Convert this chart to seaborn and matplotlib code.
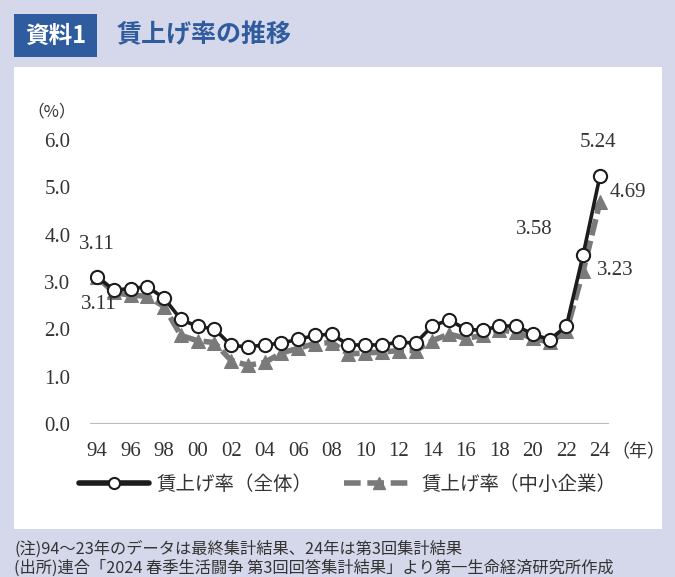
import matplotlib
matplotlib.use("Agg")
import matplotlib.pyplot as plt
from matplotlib.patches import Rectangle
from matplotlib.lines import Line2D
import seaborn as sns
import pandas as pd

# Data (連合 春季生活闘争 賃上げ率, %)
years = list(range(1994, 2025))
rate_all = [3.11, 2.83, 2.86, 2.90, 2.66, 2.21, 2.06, 2.01, 1.66, 1.63,
            1.67, 1.71, 1.79, 1.87, 1.90, 1.67, 1.67, 1.67, 1.73, 1.71,
            2.07, 2.20, 2.00, 1.98, 2.07, 2.07, 1.90, 1.78, 2.07, 3.58, 5.24]
rate_sme = [3.11, 2.78, 2.72, 2.70, 2.48, 1.87, 1.76, 1.72, 1.34, 1.24,
            1.30, 1.50, 1.60, 1.70, 1.72, 1.48, 1.50, 1.52, 1.55, 1.55,
            1.76, 1.90, 1.81, 1.87, 1.99, 1.94, 1.81, 1.73, 1.96, 3.23, 4.69]
xtick_years = list(range(1994, 2025, 2))
xtick_labels = [f"{y % 100:02d}" for y in xtick_years]
ytick_values = [0, 1, 2, 3, 4, 5, 6]
name_all = "賃上げ率（全体）"
name_sme = "賃上げ率（中小企業）"

df = pd.DataFrame({"year": years, "all": rate_all, "sme": rate_sme})

sns.set_style("white")
plt.rcParams['font.family'] = ['Liberation Serif', 'Noto Sans CJK JP', 'DejaVu Sans']
jp = ['Noto Sans CJK JP', 'DejaVu Sans']

bg = "#d5d8ea"
blue = "#2f5b9f"
txt = "#333333"

fig = plt.figure(figsize=(6.75, 5.77), dpi=100)
fig.patch.set_facecolor(bg)

# white panel + title box
fig.patches.append(Rectangle((14 / 675, 48 / 577), 648 / 675, 462 / 577,
                             transform=fig.transFigure, facecolor="white", edgecolor="none", zorder=-2))
fig.patches.append(Rectangle((14 / 675, 520 / 577), 83 / 675, 43 / 577,
                             transform=fig.transFigure, facecolor=blue, edgecolor="none", zorder=-2))
fig.text(55.5 / 675, 1 - 35.5 / 577, "資料1", family=jp, fontsize=17, fontweight="bold",
         color="white", ha="center", va="center")
fig.text(117 / 675, 1 - 35 / 577, "賃上げ率の推移", family=jp, fontsize=18, fontweight="bold",
         color=blue, ha="left", va="center")

ax = fig.add_axes([90 / 675, 153 / 577, 519 / 675, 284 / 577])
ax.set_zorder(1)
ax.set_facecolor("none")

sns.lineplot(data=df, x="year", y="sme", ax=ax, color="#7a7a7a", linewidth=4,
             linestyle=(0, (3, 1)), marker="^", markersize=10.5, markeredgecolor="#7a7a7a",
             markerfacecolor="#7a7a7a", zorder=3)
sns.lineplot(data=df, x="year", y="all", ax=ax, color="#1c1c1c", linewidth=2.6,
             marker="o", markersize=9.5, markerfacecolor="white", markeredgecolor="#1c1c1c",
             markeredgewidth=1.5, zorder=4)

ax.axhline(0, color="#bdbdbd", linewidth=1.5, zorder=1)
ax.set_xlim(1993.58, 2024.54)
ax.set_ylim(0, 6)
ax.set_xticks(xtick_years)
ax.set_xticklabels(xtick_labels)
ax.set_yticks(ytick_values)
ax.set_yticklabels([f"{v:.1f}" for v in ytick_values])
ax.tick_params(axis="both", length=0, labelsize=15, colors=txt)
ax.tick_params(axis="y", pad=14)
ax.tick_params(axis="x", pad=13)
ax.set_xlabel("")
ax.set_ylabel("")
sns.despine(ax=ax, left=True, bottom=True)

# value labels
def label(series, idx, dx, dy):
    ax.annotate(f"{series[idx]:.2f}", (years[idx], series[idx]), xytext=(dx, dy),
                textcoords="offset pixels", ha="center", va="center",
                fontsize=15, color=txt, annotation_clip=False, zorder=5)

label(rate_all, 0, 0, 32)
label(rate_sme, 0, 2, -28)
label(rate_all, -2, -49, 25)
label(rate_sme, -2, 32, 1)
label(rate_all, -1, -2, 33)
label(rate_sme, -1, 28, 10)

fig.text(52 / 675, 1 - 112 / 577, "（%）", fontsize=12, color=txt, ha="center", va="center",
         family=['Noto Sans CJK JP', 'DejaVu Sans'])
fig.text(611 / 675, 1 - 452 / 577, "（年）", fontsize=13, color=txt, ha="left", va="center",
         family=['Noto Sans CJK JP', 'DejaVu Sans'])

handles = [
    Line2D([], [], color="#1c1c1c", linewidth=4, marker="o", markersize=8,
           markerfacecolor="white", markeredgecolor="#1c1c1c", markeredgewidth=1.5),
    Line2D([], [], color="#7a7a7a", linewidth=4, linestyle=(0, (3, 1.2)), marker="^",
           markersize=8, markerfacecolor="#7a7a7a", markeredgecolor="#7a7a7a"),
]
fig.legend(handles, [name_all, name_sme], loc="center", bbox_to_anchor=(0.515, 1 - 484 / 577),
           ncol=2, frameon=False, handlelength=3.6, columnspacing=1.6, handletextpad=0.4,
           prop={"family": jp, "size": 14}, labelcolor=txt)

fig.text(14 / 675, 1 - 549 / 577, "(注)94～23年のデータは最終集計結果、24年は第3回集計結果",
         family=jp, fontsize=11.7, color=txt, ha="left", va="center")
fig.text(14 / 675, 1 - 568 / 577, "(出所)連合「2024 春季生活闘争 第3回回答集計結果」より第一生命経済研究所作成",
         family=jp, fontsize=11.7, color=txt, ha="left", va="center")

fig.savefig("out.png", dpi=100, facecolor=fig.get_facecolor())
